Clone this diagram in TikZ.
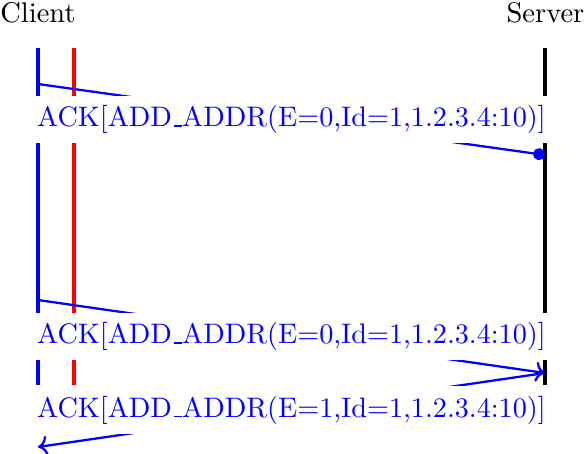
\documentclass[tikz,border=0pt]{standalone}
\usetikzlibrary{arrows.meta}
\definecolor{MsgClr}{rgb}{0,0,1}
\newcommand\uscore{\leavevmode\kern.06em\vbox{\hrule width.3em}}

\begin{document}
\begin{tikzpicture}[x=0.351pt,y=-0.351pt,
  life/.style={line width=1.2pt},
  msg/.style={color=MsgClr,thick},
  msglabel/.style={fill=white,text=MsgClr,font=\fontsize{9.9pt}{12pt}\selectfont}]
\useasboundingbox (0,0) rectangle (586,454);

\node (client) at (38,13) {Client};
\node (server) at (545.5,13) {Server};

\coordinate (CT) at (38,48);  \coordinate (CB) at (38,385);
\coordinate (RT) at (74,48);  \coordinate (RB) at (74,385);
\coordinate (ST) at (545,48); \coordinate (SB) at (545,385);

\draw[life,color=MsgClr] (CT) -- (CB);
\draw[life,red] (RT) -- (RB);
\draw[life,black] (ST) -- (SB);

\coordinate (C1) at (38,84);  \coordinate (S1) at (545,155);
\coordinate (C2) at (38,300); \coordinate (S2) at (545,373);
\coordinate (C3) at (38,447);

\draw[msg,-{Circle[length=4.2pt]}] (C1) -- (S1)
  node[msglabel,midway] (ack1) {ACK[ADD\uscore ADDR(E=0,Id=1,1.2.3.4:10)]};
\draw[msg,->] (C2) -- (S2)
  node[msglabel,midway] (ack2) {ACK[ADD\uscore ADDR(E=0,Id=1,1.2.3.4:10)]};
\draw[msg,->] (S2) -- (C3)
  node[msglabel,midway] (ack3) {ACK[ADD\uscore ADDR(E=1,Id=1,1.2.3.4:10)]};

\end{tikzpicture}
\end{document}
